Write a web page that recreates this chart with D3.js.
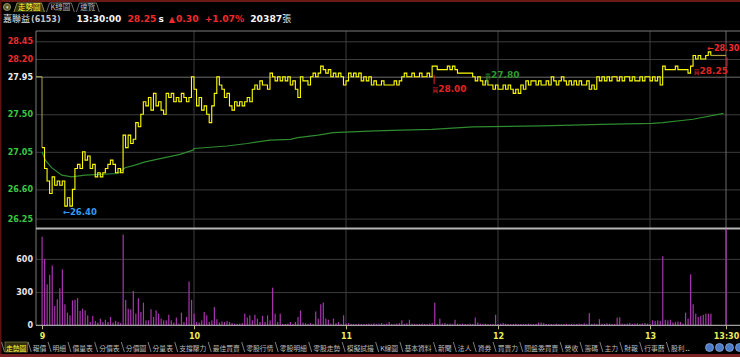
<!DOCTYPE html>
<html>
<head>
<meta charset="utf-8">
<script src="https://cdn.jsdelivr.net/npm/d3@7/dist/d3.min.js"></script>
<style>
  html, body { margin: 0; padding: 0; background: #000; overflow: hidden; }
  svg { display: block; }
  .num { font-family: "DejaVu Sans", sans-serif; font-weight: bold; }
  .cjk { font-family: "Noto Sans CJK TC", sans-serif; }
</style>
</head>
<body>
<svg id="chart" width="740" height="357"></svg>
<script>
// ---- datos ----
const refPrice = 27.95;
const priceTicks = [28.45, 28.20, 27.95, 27.50, 27.05, 26.60, 26.25];
const volumeTicks = [0, 300, 600];
const timeTickMinutes = [0, 60, 120, 180, 240, 270];
const timeTickLabels = ['9', '10', '11', '12', '13', '13:30'];
const gridMinutes = [60, 120, 180, 240, 270];

// precio por minuto, 9:00 - 13:24
const prices = [
  27.10, 26.85, 26.70, 26.55, 26.75, 26.65, 26.70, 26.65, 26.70, 26.40,
  26.50, 26.40, 26.60, 26.85, 26.90, 26.85, 27.05, 26.95, 27.00, 26.85,
  26.90, 26.75, 26.80, 26.75, 26.80, 26.85, 26.90, 26.95, 26.90, 26.80,
  26.85, 26.80, 27.25, 27.10, 27.25, 27.15, 27.20, 27.40, 27.35, 27.50,
  27.65, 27.60, 27.70, 27.55, 27.75, 27.60, 27.65, 27.55, 27.50, 27.75,
  27.70, 27.75, 27.65, 27.70, 27.65, 27.75, 27.70, 27.65, 27.70, 27.95,
  27.80, 27.60, 27.70, 27.55, 27.60, 27.50, 27.40, 27.60, 27.75, 27.95,
  27.85, 27.80, 27.70, 27.75, 27.60, 27.55, 27.65, 27.60, 27.65, 27.60,
  27.65, 27.70, 27.65, 27.80, 27.85, 27.80, 27.90, 27.85, 27.85, 27.80,
  28.00, 27.95, 27.90, 27.95, 27.90, 27.95, 27.90, 27.95, 27.85, 27.90,
  27.80, 27.70, 27.95, 27.90, 27.90, 27.85, 27.95, 28.00, 27.95, 28.00,
  28.10, 28.05, 28.00, 28.05, 27.95, 28.00, 27.95, 28.00, 27.95, 27.85,
  27.90, 28.00, 27.95, 28.00, 27.95, 28.00, 27.90, 27.95, 27.90, 27.95,
  27.85, 27.90, 27.85, 27.85, 27.90, 27.85, 27.85, 27.85, 27.85, 27.90,
  27.85, 27.90, 27.95, 28.00, 27.95, 27.95, 28.00, 27.95, 27.95, 28.00,
  27.95, 27.95, 28.00, 27.95, 28.10, 28.10, 28.05, 28.05, 28.05, 28.05,
  28.10, 28.05, 28.10, 28.05, 28.00, 28.00, 28.00, 28.00, 28.00, 28.00,
  27.95, 27.90, 27.95, 27.90, 27.85, 27.90, 27.85, 27.85, 27.80, 27.85,
  27.80, 27.80, 27.85, 27.80, 27.85, 27.80, 27.75, 27.80, 27.75, 27.85,
  27.80, 27.90, 27.85, 27.90, 27.90, 27.85, 27.90, 27.85, 27.85, 27.90,
  27.85, 27.95, 27.90, 27.85, 27.90, 27.95, 27.90, 27.85, 27.90, 27.85,
  27.90, 27.85, 27.90, 27.85, 27.85, 27.90, 27.80, 27.85, 27.80, 27.95,
  27.90, 27.95, 27.90, 27.95, 27.90, 27.95, 27.95, 27.90, 27.95, 27.90,
  27.95, 27.95, 27.90, 27.95, 27.90, 27.90, 27.95, 27.90, 27.95, 27.95,
  27.90, 27.95, 27.90, 27.95, 27.85, 28.10, 28.05, 28.05, 28.05, 28.05,
  28.10, 28.05, 28.05, 28.05, 28.05, 28.00, 28.10, 28.25, 28.20, 28.25,
  28.20, 28.20, 28.25, 28.30, 28.25
];
const closeMinute = 270;
const closePrice = 28.25;

// volumen por minuto (張)
const volumes = [
  800, 600, 370, 455, 540, 175, 235, 335, 505, 190,
  115, 90, 225, 230, 245, 130, 150, 135, 90, 30,
  85, 40, 25, 60, 30, 50, 30, 75, 25, 40,
  30, 20, 820, 230, 150, 145, 310, 105, 245, 120,
  205, 45, 45, 145, 75, 135, 105, 60, 45, 45,
  95, 45, 25, 70, 15, 115, 30, 75, 395, 230,
  105, 30, 25, 45, 120, 90, 30, 45, 165, 55,
  25, 35, 30, 40, 30, 20, 15, 12, 15, 20,
  105, 70, 90, 45, 95, 60, 30, 85, 30, 90,
  45, 340, 105, 30, 105, 12, 12, 15, 30, 12,
  30, 75, 135, 25, 18, 12, 20, 12, 125, 60,
  190, 205, 60, 50, 15, 60, 20, 30, 12, 90,
  15, 20, 12, 12, 10, 15, 12, 10, 12, 15,
  12, 18, 10, 15, 20, 12, 15, 30, 12, 10,
  15, 20, 45, 12, 18, 50, 15, 12, 10, 12,
  15, 12, 10, 15, 20, 205, 12, 60, 15, 20,
  12, 15, 10, 50, 15, 12, 15, 12, 10, 15,
  12, 70, 25, 15, 12, 15, 12, 10, 12, 95,
  12, 15, 20, 15, 12, 10, 12, 15, 10, 12,
  10, 12, 15, 12, 10, 12, 25, 25, 20, 12,
  10, 12, 10, 15, 12, 10, 12, 15, 10, 12,
  10, 12, 15, 12, 18, 10, 110, 12, 15, 12,
  55, 15, 12, 18, 15, 12, 10, 70, 72, 15,
  12, 15, 20, 12, 15, 18, 12, 15, 20, 15,
  12, 45, 40, 45, 40, 625, 50, 45, 50, 25,
  30, 35, 30, 15, 115, 60, 460, 190, 105, 75,
  85, 95, 105, 105, 105
];
const closeVolume = 870;

// precio promedio
const avgMinutes = [0, 1.3, 3.8, 7.8, 11.7, 17, 30, 32.8, 36.7, 40.7, 48.5, 54.5, 59.6, 60,
  73, 81, 90, 98, 101, 109, 115, 131.5, 142, 154, 170, 197, 221, 241, 245, 257, 269];
const avgPrices = [27.05, 26.95, 26.86, 26.77, 26.75, 26.77, 26.79, 26.86, 26.89, 26.93, 26.98, 27.02, 27.07, 27.09,
  27.12, 27.15, 27.19, 27.20, 27.22, 27.25, 27.28, 27.30, 27.31, 27.32, 27.35, 27.36, 27.38, 27.39, 27.40, 27.44, 27.51];

// marcas de compra / venta
const markMinutes = [154.4, 175.3, 270];
const markPrices = [28.00, 27.80, 28.25];
const markTypes = ['買', '賣', '買'];

const topTabs = ['走勢圖', 'K線圖', '速覽'];
const bottomTabs = ['走勢圖', '報價', '明細', '價量表', '分價表', '分價圖', '分量表', '支撐壓力', '最佳買賣',
  '零股行情', '零股明細', '零股走勢', '模擬試撮', 'K線圖', '基本資料', '新聞', '法人', '資券', '買賣力',
  '閱盤委買賣', '營收', '籌碼', '主力', '財報', '行事曆', '股利'];

// ---- grafico ----
const svg = d3.select('#chart');
const frame = { left: 36, right: 740, top: 31, priceBottom: 228, volTop: 229, volBottom: 325.3 };
const RED = '#f02a2a', GREEN = '#3cc83c', YELLOW = '#ffff00';

const x = d3.scaleLinear().domain([0, 270]).range([42, 726]);
const y = d3.scaleLinear().domain([26.25, refPrice, 28.45]).range([218.6, 76.7, 41.3]);
const yVol = d3.scaleLinear().domain([0, 870]).range([frame.volBottom, frame.volTop]);

svg.append('rect').attr('width', 740).attr('height', 357).attr('fill', '#000');

// bordes rojos
svg.append('rect').attr('x', 0).attr('y', 0).attr('width', 740).attr('height', 2).attr('fill', '#6a1a12');
svg.append('rect').attr('x', 0).attr('y', 0).attr('width', 1.5).attr('height', 357).attr('fill', '#5a1410');
svg.append('rect').attr('x', 0).attr('y', 354).attr('width', 740).attr('height', 3).attr('fill', '#7a2424');

// grid horizontal precio
const gridY = d3.axisLeft(y).tickValues(priceTicks).tickSizeInner(frame.right - frame.left).tickSizeOuter(0).tickFormat('');
svg.append('g').attr('transform', 'translate(' + frame.right + ',0)').call(gridY)
  .call(g => g.select('.domain').remove())
  .selectAll('line').attr('stroke', d => d === refPrice ? '#6e6e6e' : '#3c3c3c');

// grid horizontal volumen
const gridV = d3.axisLeft(yVol).tickValues([300, 600]).tickSizeInner(frame.right - frame.left).tickSizeOuter(0).tickFormat('');
svg.append('g').attr('transform', 'translate(' + frame.right + ',0)').call(gridV)
  .call(g => g.select('.domain').remove())
  .selectAll('line').attr('stroke', '#3c3c3c');

// grid vertical
svg.append('g').selectAll('line').data(gridMinutes).enter().append('line')
  .attr('x1', d => x(d)).attr('x2', d => x(d))
  .attr('y1', frame.top).attr('y2', frame.volBottom)
  .attr('stroke', d => d === 270 ? '#6a6a6a' : '#3c3c3c');

// marco
svg.append('line').attr('x1', frame.left).attr('x2', frame.right).attr('y1', frame.top).attr('y2', frame.top).attr('stroke', '#7a7a7a');
svg.append('line').attr('x1', frame.left).attr('x2', frame.left).attr('y1', frame.top).attr('y2', frame.volBottom).attr('stroke', '#7a7a7a');
svg.append('rect').attr('x', frame.left).attr('y', frame.priceBottom - 0.5).attr('width', frame.right - frame.left).attr('height', 2).attr('fill', '#b4b4b4');

// eje Y precio
const axisY = d3.axisLeft(y).tickValues(priceTicks).tickFormat(d3.format('.2f')).tickSize(0).tickPadding(3);
svg.append('g').attr('transform', 'translate(' + frame.left + ',0)').call(axisY)
  .call(g => g.select('.domain').remove())
  .selectAll('text')
  .attr('class', 'num').attr('font-size', 8)
  .attr('fill', d => d > refPrice ? RED : (d === refPrice ? '#ececec' : GREEN));

// eje Y volumen
const axisV = d3.axisLeft(yVol).tickValues(volumeTicks).tickSize(0).tickPadding(3);
svg.append('g').attr('transform', 'translate(' + frame.left + ',0)').call(axisV)
  .call(g => g.select('.domain').remove())
  .selectAll('text').attr('class', 'num').attr('font-size', 8).attr('fill', '#e6e6e6');

// barras de volumen
const volData = volumes.map((v, i) => ({ t: i, v: v })).concat([{ t: closeMinute, v: closeVolume }]);
svg.append('g').selectAll('rect').data(volData).enter().append('rect')
  .attr('x', d => x(d.t) - 0.5)
  .attr('width', 1.2)
  .attr('y', d => yVol(d.v))
  .attr('height', d => frame.volBottom - yVol(d.v))
  .attr('fill', '#a835ae');

// linea base volumen + eje X
const axisX = d3.axisBottom(x).tickValues(timeTickMinutes).tickFormat((d, i) => timeTickLabels[i])
  .tickSizeInner(4).tickSizeOuter(0).tickPadding(4.5);
svg.append('g').attr('transform', 'translate(0,' + frame.volBottom + ')').call(axisX)
  .call(g => g.select('.domain').attr('d', 'M' + frame.left + ',0H' + frame.right).attr('stroke', '#c8c8c8'))
  .call(g => g.selectAll('line').attr('stroke', '#b8b878'))
  .selectAll('text').attr('class', 'num').attr('font-size', 8).attr('fill', '#ecec5a');

// linea de referencia antes de la apertura
svg.append('path')
  .attr('d', 'M' + frame.left + ',' + y(refPrice) + 'H' + x(0) + 'V' + y(prices[0]))
  .attr('fill', 'none').attr('stroke', '#a8a84a').attr('stroke-width', 1);

// precio promedio
const avgLine = d3.line().x((d, i) => x(avgMinutes[i])).y(d => y(d));
svg.append('path').datum(avgPrices).attr('d', avgLine)
  .attr('fill', 'none').attr('stroke', '#2f8a30').attr('stroke-width', 1.2);

// precio
const priceLine = d3.line().x((d, i) => x(i)).y(d => y(d)).curve(d3.curveStepAfter);
svg.append('path').datum(prices).attr('d', priceLine)
  .attr('fill', 'none').attr('stroke', YELLOW).attr('stroke-width', 1.1);
svg.append('path')
  .attr('d', 'M' + x(prices.length - 1) + ',' + y(prices[prices.length - 1]) + 'H' + x(closeMinute))
  .attr('fill', 'none').attr('stroke', '#b0a040').attr('stroke-width', 1.2);

// maximo y minimo
const lowIdx = prices.indexOf(d3.min(prices));
const highIdx = prices.lastIndexOf(d3.max(prices));
svg.append('text').attr('class', 'num').attr('font-size', 8.5).attr('fill', '#2c9cf0')
  .attr('x', x(lowIdx) - 2).attr('y', y(prices[lowIdx]) + 9).text('←' + d3.format('.2f')(prices[lowIdx]));
svg.append('text').attr('class', 'num').attr('font-size', 8).attr('fill', RED)
  .attr('x', x(highIdx) - 1).attr('y', y(prices[highIdx]) - 1).text('←' + d3.format('.2f')(prices[highIdx]));

// marcas
markMinutes.forEach((m, i) => {
  const buy = markTypes[i] === '買';
  const col = buy ? '#e02424' : '#2a9a2a';
  const py = y(markPrices[i]);
  const tick = buy ? [py + 2, py + 11] : [py - 11, py - 5];
  svg.append('line').attr('x1', x(m) + 1).attr('x2', x(m) + 1).attr('y1', tick[0]).attr('y2', tick[1])
    .attr('stroke', col).attr('stroke-width', 1);
  const t = svg.append('text').attr('font-size', 9).attr('fill', col)
    .attr('x', m === closeMinute ? x(m) + 2 : x(m) - 1)
    .attr('y', buy ? py + 18.5 : py - 11.5)
    .attr('text-anchor', m === closeMinute ? 'end' : 'start');
  t.append('tspan').attr('class', 'cjk').attr('font-size', 6).text(markTypes[i]);
  t.append('tspan').attr('class', 'num').text(d3.format('.2f')(markPrices[i]));
});

// ---- cabecera ----
svg.append('circle').attr('cx', 7).attr('cy', 7).attr('r', 3.6).attr('fill', '#5e5e28').attr('stroke', '#a0a070').attr('stroke-width', 0.8);
svg.append('text').attr('x', 7).attr('y', 9).attr('text-anchor', 'middle').attr('font-size', 5).attr('fill', '#ddd').text('▾');
const tabLayer = svg.append('g');
let tx = 14;
topTabs.forEach((name, i) => {
  const shape = tabLayer.append('path');
  const label = tabLayer.append('text').attr('class', 'cjk').attr('font-size', 7.5)
    .attr('x', tx + 4).attr('y', 10).attr('fill', i === 0 ? '#ffff30' : '#b8b8b8').text(name);
  const w = label.node().getComputedTextLength() + 8;
  shape
    .attr('d', 'M' + tx + ',12L' + (tx + 3) + ',3H' + (tx + w - 3) + 'L' + (tx + w) + ',12')
    .attr('fill', i === 0 ? '#35350c' : 'none').attr('stroke', i === 0 ? '#a0a060' : '#808080').attr('stroke-width', 0.8);
  tx += w + 2;
});

const header = [
  { text: '嘉聯益', cls: 'cjk', size: 9, color: '#e4e4e4', weight: 'normal' },
  { text: '(6153)', cls: 'num', size: 8, color: '#c4c4c4', weight: 'normal', gap: 1 },
  { text: '13:30:00', cls: 'num', size: 9, color: '#f4f4f4', gap: 16 },
  { text: '28.25', cls: 'num', size: 9.2, color: RED, gap: 6 },
  { text: 's', cls: 'num', size: 9, color: '#f4f4f4', gap: 2 },
  { text: '▲', cls: 'num', size: 8, color: RED, gap: 5 },
  { text: '0.30', cls: 'num', size: 9.2, color: RED, gap: 1 },
  { text: '+1.07%', cls: 'num', size: 9.2, color: RED, gap: 6 },
  { text: '20387', cls: 'num', size: 9.2, color: '#f4f4f4', gap: 6 },
  { text: '張', cls: 'cjk', size: 9, color: '#e4e4e4', weight: 'normal', gap: 0 }
];
let hx = 3;
header.forEach(h => {
  hx += h.gap || 0;
  const t = svg.append('text').attr('class', h.cls).attr('font-size', h.size).attr('fill', h.color)
    .attr('x', hx).attr('y', 22).text(h.text);
  if (h.weight) t.attr('font-weight', h.weight);
  hx += t.node().getComputedTextLength();
});

// ---- pestañas inferiores ----
const bottomLayer = svg.append('g');
let bx = 6;
bottomTabs.forEach((name, i) => {
  bottomLayer.append('line').attr('x1', bx - 4.5).attr('x2', bx - 1.5).attr('y1', 342).attr('y2', 352)
    .attr('stroke', '#9a9a9a').attr('stroke-width', 0.8);
  const box = i === 0 ? bottomLayer.append('rect') : null;
  const label = bottomLayer.append('text').attr('class', 'cjk').attr('font-size', 6.8)
    .attr('x', bx).attr('y', 350.5).attr('fill', i === 0 ? '#ffff30' : '#bdbdbd').text(name);
  const w = label.node().getComputedTextLength();
  if (box) {
    box.attr('x', bx - 1).attr('y', 342).attr('width', w + 2).attr('height', 10)
      .attr('fill', '#30300c').attr('stroke', '#8a8a50').attr('stroke-width', 0.6);
  }
  bx += w + 6.3;
});
bottomLayer.append('text').attr('class', 'num').attr('font-size', 6).attr('fill', '#bdbdbd').attr('x', bx - 5.5).attr('y', 350.5).text('..');
[709.5, 719.5, 729.5, 739.5].forEach(cx => {
  bottomLayer.append('circle').attr('cx', cx).attr('cy', 347.5).attr('r', 4)
    .attr('fill', '#4a7ac8').attr('stroke', '#9ab4dc').attr('stroke-width', 0.7);
});
</script>
</body>
</html>
